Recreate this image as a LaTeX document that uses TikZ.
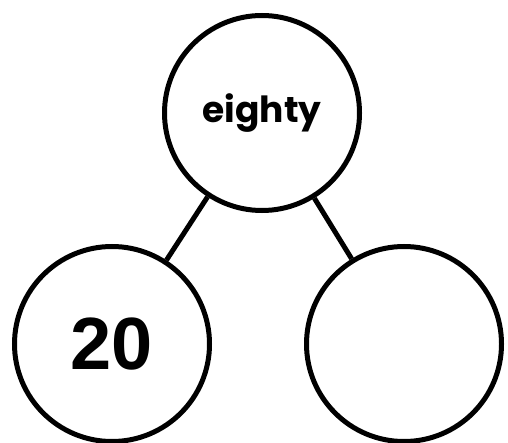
\documentclass[tikz,border=0pt]{standalone}
\usepackage{fontspec}
\newfontfamily\wordfont{Poppins}
\newfontfamily\numfont{Liberation Sans}
\usetikzlibrary{positioning}

\begin{document}
\begin{tikzpicture}[
  x=0.5pt,y=-0.5pt,
  part/.style={draw,circle,line width=2.5pt,minimum size=97.5pt,inner sep=0pt},
  link/.style={line width=2.5pt}
]
  \useasboundingbox (0,0) rectangle (508,443);
  \node[part,font=\wordfont\bfseries\fontsize{18}{20}\selectfont] (whole) at (262,113) {eighty};
  \node[part,font=\numfont\bfseries\fontsize{37}{40}\selectfont] (left) at (112,344) {20};
  \node[part] (right) at (404,344) {};
  \draw[link] (whole) -- (left);
  \draw[link] (whole) -- (right);
\end{tikzpicture}
\end{document}
